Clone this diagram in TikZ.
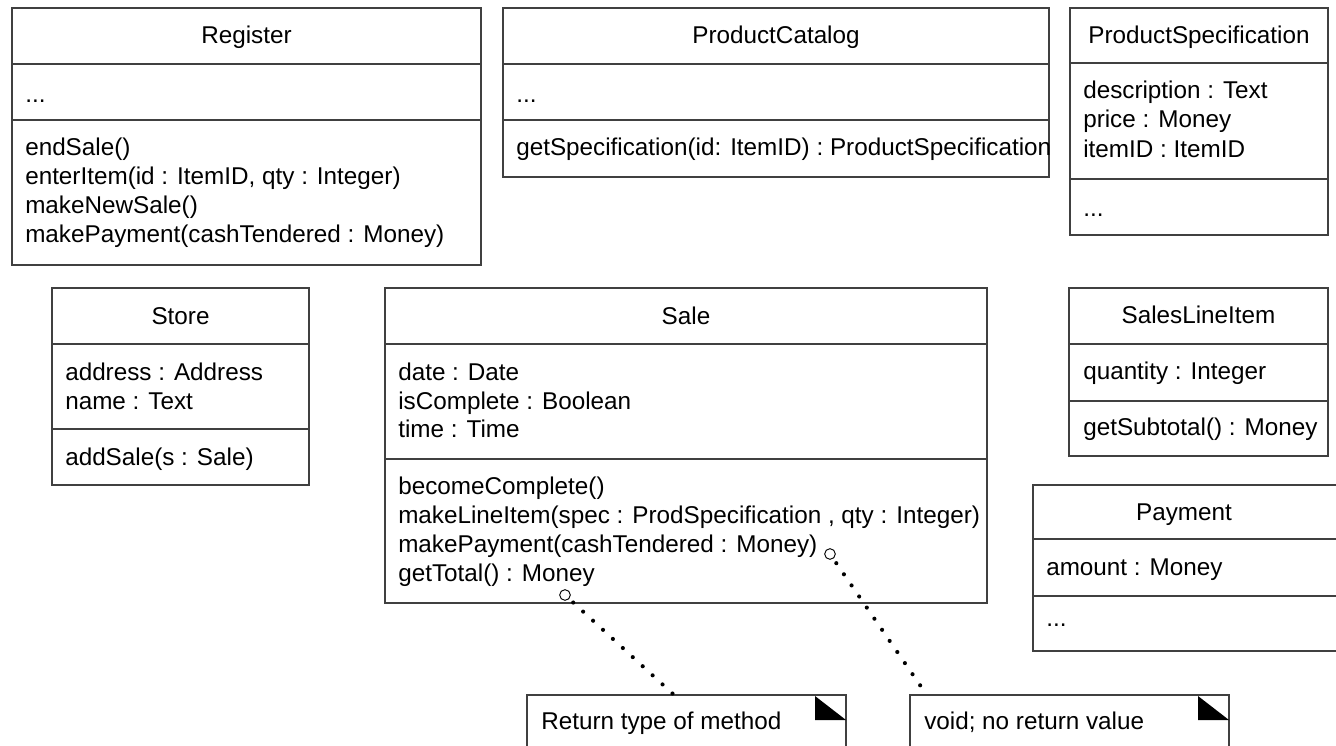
\documentclass[tikz,border=0pt]{standalone}
\usepackage{fontspec}
\setmainfont{Liberation Sans}
\usetikzlibrary{fit}
\begin{document}
\begin{tikzpicture}[x=0.75pt,y=-0.75pt,
 cls/.style={draw=black!75, line width=0.9pt, inner sep=0pt},
 txt/.style={anchor=base west, inner sep=0pt, font=\fontsize{18.2}{21}\selectfont, text=black},
 ttl/.style={anchor=base, inner sep=0pt, font=\fontsize{18.2}{21}\selectfont, text=black},
 sep/.style={draw=black!75, line width=0.9pt},
 pin/.style={circle, draw=black, line width=0.7pt, minimum size=8pt, inner sep=0pt, fill=white},
 dotline/.style={line width=3.1pt, line cap=round, dash pattern=on 0pt off 10.1pt, black, shorten <=4pt}]
\useasboundingbox (0,0) rectangle (1336,746);
\fill[white] (0,0) rectangle (1336,746);

% Register
\node[cls, fit={(12,8) (481,265)}] (register) {};
\draw[sep] (12,64) -- (481,64);
\draw[sep] (12,120) -- (481,120);
\node[ttl] (regT) at (246.5,43) {Register};
\node[txt] (regA) at (25,102) {...};
\node[txt] (regM1) at (25,155) {endSale()};
\node[txt] (regM2) at (25,184) {enterItem(id : ItemID, qty : Integer)};
\node[txt] (regM3) at (25,213) {makeNewSale()};
\node[txt] (regM4) at (25,242) {makePayment(cashTendered : Money)};

% ProductCatalog
\node[cls, fit={(503,8) (1049,177)}] (catalog) {};
\draw[sep] (503,64) -- (1049,64);
\draw[sep] (503,120) -- (1049,120);
\node[ttl] (catT) at (776,43) {ProductCatalog};
\node[txt] (catA) at (516,102) {...};
\node[txt] (catM) at (516,155) {getSpecification(id: ItemID) : ProductSpecification};

% ProductSpecification
\node[cls, fit={(1070,8) (1328,235)}] (spec) {};
\draw[sep] (1070,63) -- (1328,63);
\draw[sep] (1070,179) -- (1328,179);
\node[ttl] (specT) at (1199,43) {ProductSpecification};
\node[txt] (specA1) at (1083,98) {description : Text};
\node[txt] (specA2) at (1083,127) {price : Money};
\node[txt] (specA3) at (1083,157) {itemID : ItemID};
\node[txt] (specM) at (1083,216) {...};

% Store
\node[cls, fit={(52,288) (309,485)}] (store) {};
\draw[sep] (52,344) -- (309,344);
\draw[sep] (52,429) -- (309,429);
\node[ttl] (storeT) at (180.5,324) {Store};
\node[txt] (storeA1) at (65,380) {address : Address};
\node[txt] (storeA2) at (65,409) {name : Text};
\node[txt] (storeM) at (65,465) {addSale(s : Sale)};

% Sale
\node[cls, fit={(385,288) (987,603)}] (sale) {};
\draw[sep] (385,344) -- (987,344);
\draw[sep] (385,459) -- (987,459);
\node[ttl] (saleT) at (686,324) {Sale};
\node[txt] (saleA1) at (398,380) {date : Date};
\node[txt] (saleA2) at (398,409) {isComplete : Boolean};
\node[txt] (saleA3) at (398,437) {time : Time};
\node[txt] (saleM1) at (398,494) {becomeComplete()};
\node[txt] (saleM2) at (398,523) {makeLineItem(spec : ProdSpecification , qty : Integer)};
\node[txt] (saleM3) at (398,552) {makePayment(cashTendered : Money)};
\node[txt] (saleM4) at (398,581) {getTotal() : Money};

% SalesLineItem
\node[cls, fit={(1069,288) (1328,456)}] (sli) {};
\draw[sep] (1069,344) -- (1328,344);
\draw[sep] (1069,401) -- (1328,401);
\node[ttl] (sliT) at (1198.5,323) {SalesLineItem};
\node[txt] (sliA) at (1083,379) {quantity : Integer};
\node[txt] (sliM) at (1083,435) {getSubtotal() : Money};

% Payment
\node[cls, fit={(1033,485) (1340,651)}] (payment) {};
\draw[sep] (1033,539) -- (1340,539);
\draw[sep] (1033,596) -- (1340,596);
\node[ttl] (payT) at (1184,520) {Payment};
\node[txt] (payA) at (1046,575) {amount : Money};
\node[txt] (payM) at (1046,626) {...};

% Notes
\node[cls, fit={(527,695) (846,770)}] (note1) {};
\fill[black] (815,696) -- (815,720) -- (846,720) -- cycle;
\node[txt] (note1T) at (541,729) {Return type of method};
\node[cls, fit={(910,695) (1229,770)}] (note2) {};
\fill[black] (1198,696) -- (1198,720) -- (1229,720) -- cycle;
\node[txt] (note2T) at (924,729) {void; no return value};

% pins and connectors
\node[pin] (pin1) at (565,595) {};
\node[pin] (pin2) at (830,554) {};
\coordinate (end1) at (673,694);
\coordinate (end2) at (922,688);
\draw[dotline] (pin1) -- (end1);
\draw[dotline] (pin2) -- (end2);
\end{tikzpicture}
\end{document}
